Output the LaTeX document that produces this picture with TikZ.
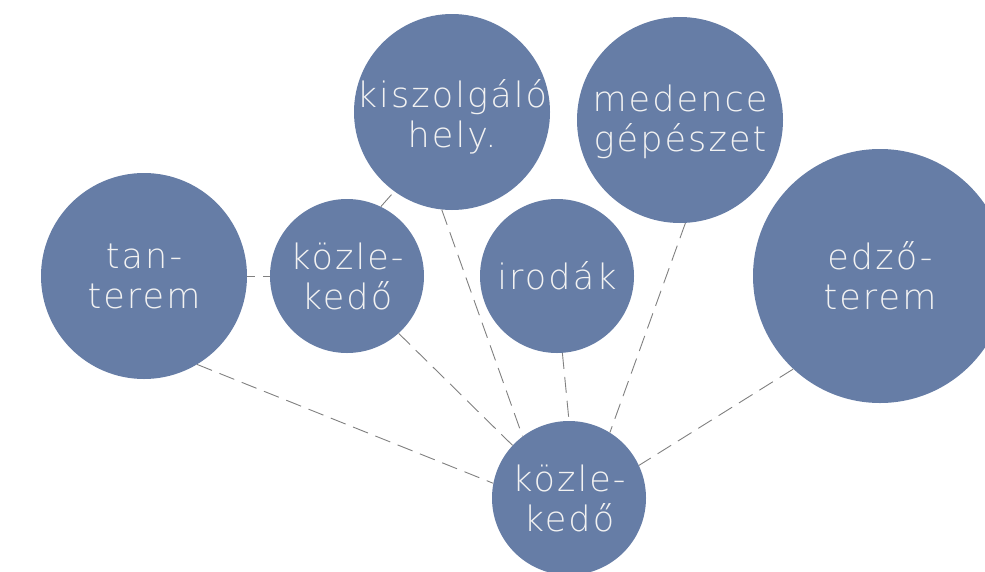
\documentclass[tikz,border=0pt]{standalone}
\usepackage{fontspec}
\setmainfont{DejaVu Sans ExtraLight}[LetterSpace=6]
\definecolor{bubble}{RGB}{102,125,166}
\definecolor{bubbletext}{RGB}{242,242,242}
\definecolor{linkgray}{RGB}{128,128,128}
\tikzset{
  bub/.style={circle, fill=bubble, draw=none, inner sep=0pt, minimum size=#1},
  bubtxt/.style={text=bubbletext, align=center, inner sep=0pt,
    font=\fontsize{35}{40}\selectfont},
  link/.style={draw=linkgray, line width=0.9pt, dash pattern=on 16pt off 8pt}
}
\begin{document}
\begin{tikzpicture}[x=1pt,y=-1pt]
\useasboundingbox (0,0) rectangle (985,571);
\clip (0,0) rectangle (985,571);
% circles
\node[bub=206pt] (tan) at (144,276) {};
\node[bub=154pt] (kozL) at (347,276) {};
\node[bub=196pt] (kisz) at (452,112) {};
\node[bub=206pt] (med) at (680,120) {};
\node[bub=154pt] (iro) at (557,276) {};
\node[bub=254pt] (edz) at (880,276) {};
\node[bub=154pt] (kozB) at (569,498) {};
% connectors
\draw[link, dash phase=8pt] (tan.0) -- (kozL.180);
\draw[link] (kozL.64) -- (kisz.234.5);
\draw[link] (tan.301.8) -- (kozB.169.6);
\draw[link] (kozL.312.9) -- (kozB.137.1);
\draw[link] (kisz.264.2) -- (kozB.127.6);
\draw[link] (iro.274.5) -- (kozB.90);
\draw[link] (med.273.9) -- (kozB.58);
\draw[link] (edz.227.9) -- (kozB.25.6);
% texts
\node[bubtxt] (tanT) at (tan.center) {tan-\\terem};
\node[bubtxt] (kozLT) at (kozL.center) {közle-\\kedő};
\node[bubtxt] (kiszT) at ([yshift=-5pt]kisz.center) {kiszolgáló\\hely.};
\node[bubtxt] (medT) at ([yshift=-2pt]med.center) {medence\\gépészet};
\node[bubtxt] (iroT) at (iro.center) {irodák};
\node[bubtxt] (edzT) at (edz.center) {edző-\\terem};
\node[bubtxt] (kozBT) at (kozB.center) {közle-\\kedő};
\end{tikzpicture}
\end{document}
